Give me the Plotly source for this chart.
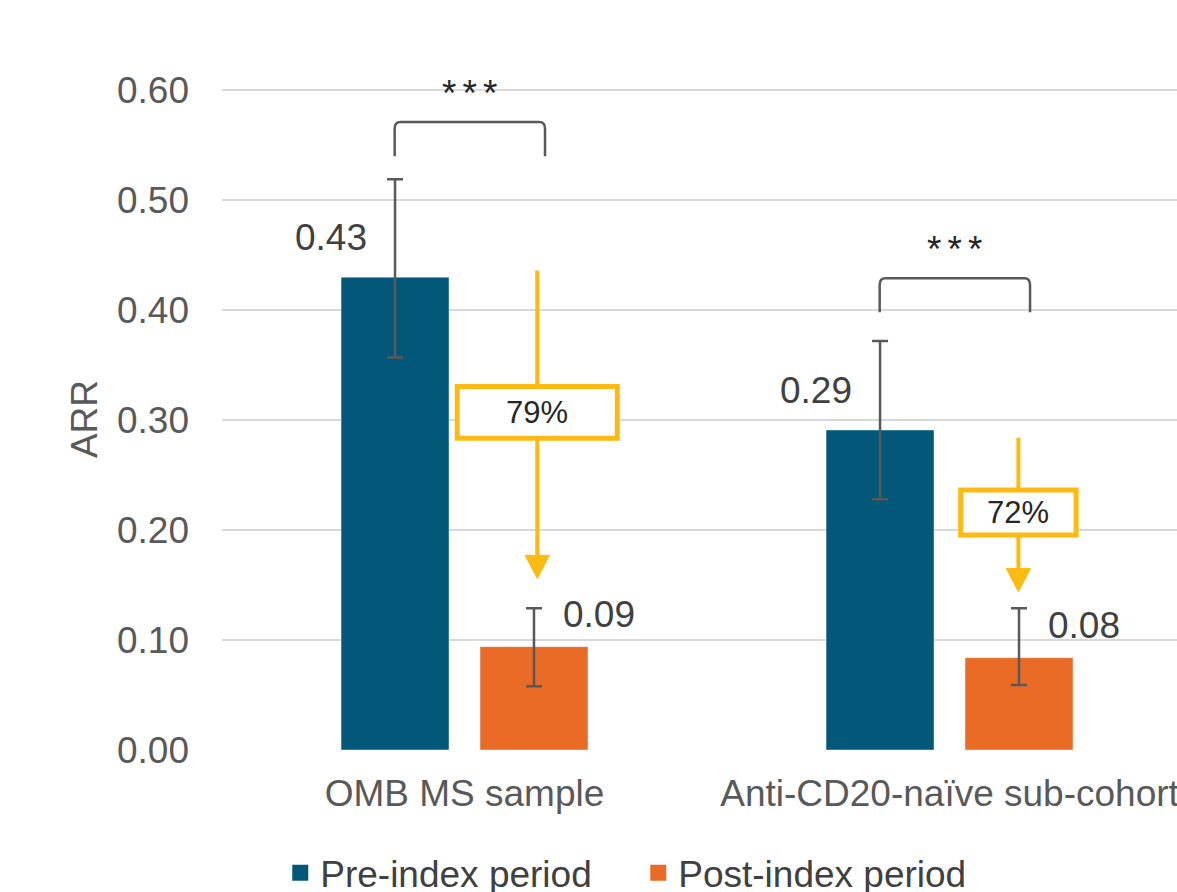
import plotly.graph_objects as go

# ---- data ----
categories = ["OMB MS sample", "Anti-CD20-naïve sub-cohort"]
series_names = ["Pre-index period", "Post-index period"]
pre_values = [0.43, 0.291]
post_values = [0.094, 0.084]
pre_err_upper = [0.519, 0.372]
pre_err_lower = [0.357, 0.228]
post_err_upper = [0.129, 0.129]
post_err_lower = [0.058, 0.059]
reduction_labels = ["79%", "72%"]
significance = ["*\u2006*\u2006*", "*\u2006*\u2006*"]
y_ticks = [0.0, 0.1, 0.2, 0.3, 0.4, 0.5, 0.6]

PRE_COLOR = "#03587A"
POST_COLOR = "#E96B26"
YELLOW = "#FDBA12"
ERR_COLOR = "#595959"
TEXT_COLOR = "#404040"
FONT = "Liberation Sans, Arial, sans-serif"
colors = [PRE_COLOR, POST_COLOR]

xpos = list(range(len(categories)))

fig = go.Figure()
fig.add_trace(go.Bar(
    x=xpos, y=pre_values, name=series_names[0], marker_color=PRE_COLOR, showlegend=False,
    error_y=dict(type="data", symmetric=False,
                 array=[u - v for u, v in zip(pre_err_upper, pre_values)],
                 arrayminus=[v - l for v, l in zip(pre_values, pre_err_lower)],
                 color=ERR_COLOR, thickness=2.5, width=8),
))
fig.add_trace(go.Bar(
    x=xpos, y=post_values, name=series_names[1], marker_color=POST_COLOR, showlegend=False,
    error_y=dict(type="data", symmetric=False,
                 array=[u - v for u, v in zip(post_err_upper, post_values)],
                 arrayminus=[v - l for v, l in zip(post_values, post_err_lower)],
                 color=ERR_COLOR, thickness=2.5, width=8),
))
# legend entries with larger square swatches
for name, col in zip(series_names, colors):
    fig.add_trace(go.Scatter(x=[None], y=[None], mode="markers", name=name,
                             marker=dict(symbol="square", size=17, color=col)))

annotations = []
shapes = []

# data labels
for i in xpos:
    annotations.append(dict(x=i - 0.275, y=pre_values[i] + 0.036, xref="x", yref="y",
                            text=f"{pre_values[i]:.2f}", showarrow=False,
                            font=dict(size=37, color=TEXT_COLOR, family=FONT)))
    annotations.append(dict(x=i + 0.277, y=post_values[i] + 0.029, xref="x", yref="y",
                            text=f"{post_values[i]:.2f}", showarrow=False,
                            font=dict(size=37, color=TEXT_COLOR, family=FONT)))

# significance brackets
bracket_top = [0.571, 0.429]
bracket_leg = 0.031
bl, br = -0.144, 0.166
rx, ry = 0.012, 0.006
for i in xpos:
    x0, x1 = i + bl, i + br
    yt = bracket_top[i]
    yb = yt - bracket_leg
    path = (f"M {x0},{yb} L {x0},{yt-ry} Q {x0},{yt} {x0+rx},{yt} "
            f"L {x1-rx},{yt} Q {x1},{yt} {x1},{yt-ry} L {x1},{yb}")
    shapes.append(dict(type="path", path=path, xref="x", yref="y",
                       line=dict(color=ERR_COLOR, width=2.5)))
    annotations.append(dict(x=(x0 + x1) / 2, y=yt + 0.026, xref="x", yref="y",
                            text=significance[i], showarrow=False,
                            font=dict(size=37, color="#262626", family=FONT)))

# reduction arrows with boxes
arrow_x = [0.150, 1.142]
arrow_top = [0.436, 0.284]
arrow_tip = [0.156, 0.144]
box_cy = [0.307, 0.216]
box_hw = [0.165, 0.119]
box_hh = [0.0235, 0.0205]
head_h = 0.021
head_hw = 0.025
for i in xpos:
    ax = arrow_x[i]
    shapes.append(dict(type="line", x0=ax, x1=ax, y0=arrow_top[i], y1=arrow_tip[i] + head_h,
                       xref="x", yref="y", line=dict(color=YELLOW, width=4)))
    tip = arrow_tip[i]
    shapes.append(dict(type="path", xref="x", yref="y",
                       path=f"M {ax-head_hw},{tip+head_h} L {ax+head_hw},{tip+head_h} L {ax},{tip} Z",
                       fillcolor=YELLOW, line=dict(color=YELLOW, width=1)))
    shapes.append(dict(type="rect", xref="x", yref="y",
                       x0=ax - box_hw[i], x1=ax + box_hw[i],
                       y0=box_cy[i] - box_hh[i], y1=box_cy[i] + box_hh[i],
                       fillcolor="white", line=dict(color=YELLOW, width=5)))
    annotations.append(dict(x=ax, y=box_cy[i], xref="x", yref="y",
                            text=reduction_labels[i], showarrow=False,
                            font=dict(size=31, color="#262626", family=FONT)))

fig.update_layout(
    width=1177, height=892,
    margin=dict(l=222, r=0, t=88, b=142, autoexpand=False),
    paper_bgcolor="white", plot_bgcolor="white",
    barmode="group", bargap=0.427, bargroupgap=0.223,
    font=dict(family=FONT, size=37, color="#595959"),
    showlegend=True,
    legend=dict(orientation="h", x=0.061, xanchor="left", y=-0.186, yanchor="middle",
                font=dict(size=37, color="#404040"), entrywidth=313, entrywidthmode="pixels"),
    shapes=shapes, annotations=annotations,
)
fig.update_xaxes(range=[-0.5, 1.469], tickvals=xpos, ticktext=categories,
                 showgrid=False, zeroline=False, showline=False, ticks="",
                 automargin=False, ticklabeloverflow="allow",
                 ticklabelstandoff=18, tickfont=dict(size=37, color="#595959"))
fig.update_yaxes(range=[0, 0.602], tickvals=y_ticks, tickformat=".2f",
                 showgrid=True, gridcolor="#d9d9d9", gridwidth=1.5,
                 zeroline=False, showline=False, ticks="", ticklabelstandoff=32,
                 automargin=False,
                 tickfont=dict(size=37, color="#595959"),
                 title=dict(text="ARR", standoff=8, font=dict(size=37, color="#595959")))

# remove the default page margin so the 1177x892 figure fills the window exactly
fig.write_html("out.html", config={"displayModeBar": False},
               post_script="document.body.style.margin='0';document.body.style.overflow='hidden';")
